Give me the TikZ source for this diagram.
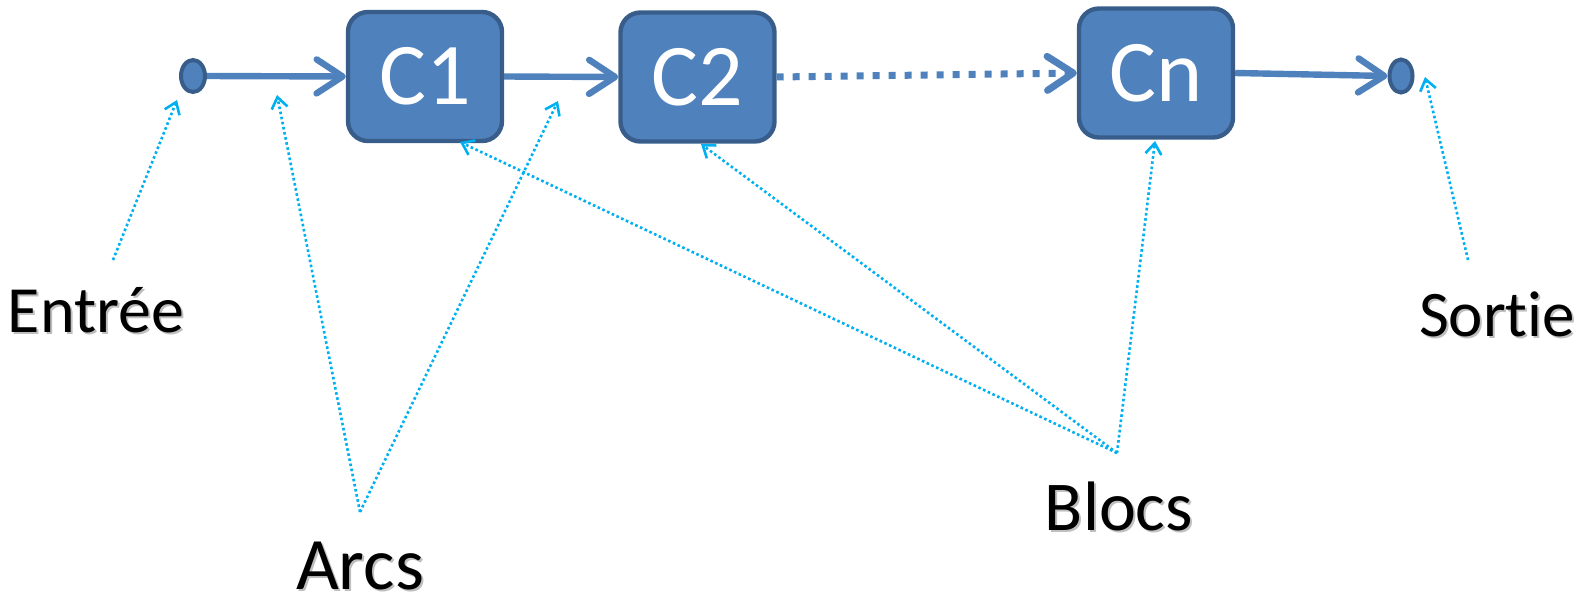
\documentclass[tikz,border=0pt]{standalone}
\usepackage{fontspec}
\setmainfont{Carlito}[Ligatures=NoCommon]
\usetikzlibrary{shapes.geometric,arrows.meta}
\definecolor{bfill}{HTML}{4F81BD}
\definecolor{bdraw}{HTML}{385D8A}
\definecolor{annot}{HTML}{00B0F0}
\newcommand{\shtext}[1]{\rlap{\hspace{1pt}\raisebox{-1pt}{\textcolor{black!25}{#1}}}#1}
\begin{document}
\begin{tikzpicture}[x=0.5pt,y=-0.5pt,
  blk/.style={rectangle, rounded corners=10pt, fill=bfill, draw=bdraw, line width=2.2pt,
    minimum width=77pt, minimum height=64.5pt, inner sep=0pt, text=white,
    font=\fontsize{44}{44}\selectfont},
  term/.style={ellipse, fill=bfill, draw=bdraw, line width=2pt,
    minimum width=12pt, minimum height=16pt, inner sep=0pt},
  flow/.style={draw=bfill, line width=3.2pt, -{Straight Barb[length=13pt,width=17pt,round]}},
  dflow/.style={draw=bfill, line width=3.5pt, dash pattern=on 3.5pt off 4.5pt,
    -{Straight Barb[length=13pt,width=17pt,round]}},
  note/.style={draw=annot, line width=1.3pt, dash pattern=on 1.3pt off 1.3pt,
    -{Straight Barb[length=5.5pt,width=8pt]}},
  lbl/.style={inner sep=0pt, anchor=base}]
\useasboundingbox (0,0) rectangle (1585,600);

\node[term] (in) at (193,76) {};
\node[blk] (c1) at (425,76.5) {C1};
\node[blk] (c2) at (697.5,77) {C2};
\node[blk] (cn) at (1156,73) {Cn};
\node[term, minimum width=11.5pt, minimum height=16.5pt] (out) at (1401,76) {};

\draw[flow] (in.east) -- (c1.west);
\draw[flow] (c1.east) -- (c2.west);
\draw[dflow] (c2.east) -- (cn.west);
\draw[flow] (cn.east) -- (out.west);

\node[lbl, font=\fontsize{37}{37}\selectfont] (arcs) at (360,589) {\shtext{Arcs}};
\node[lbl, font=\fontsize{33}{33}\selectfont] (entree) at (96,332) {\shtext{Entrée}};
\node[lbl, font=\fontsize{35}{35}\selectfont] (blocs) at (1119,530) {\shtext{Blocs}};
\node[lbl, font=\fontsize{32.5}{32.5}\selectfont] (sortie) at (1497,336) {\shtext{Sortie}};

\coordinate (eS) at (113,260);
\coordinate (eT) at (177,100);
\coordinate (aS) at (360,512);
\coordinate (aT1) at (277,95);
\coordinate (aT2) at (558,101);
\coordinate (bS) at (1117,453);
\coordinate (bT1) at (460,142);
\coordinate (bT2) at (701,144);
\coordinate (bT3) at (1155,141);
\coordinate (sS) at (1468,260);
\coordinate (sT) at (1425,77);

\draw[note] (eS) -- (eT);
\draw[note] (aS) -- (aT1);
\draw[note] (aS) -- (aT2);
\draw[note] (bS) -- (bT1);
\draw[note] (bS) -- (bT2);
\draw[note] (bS) -- (bT3);
\draw[note] (sS) -- (sT);
\end{tikzpicture}
\end{document}
